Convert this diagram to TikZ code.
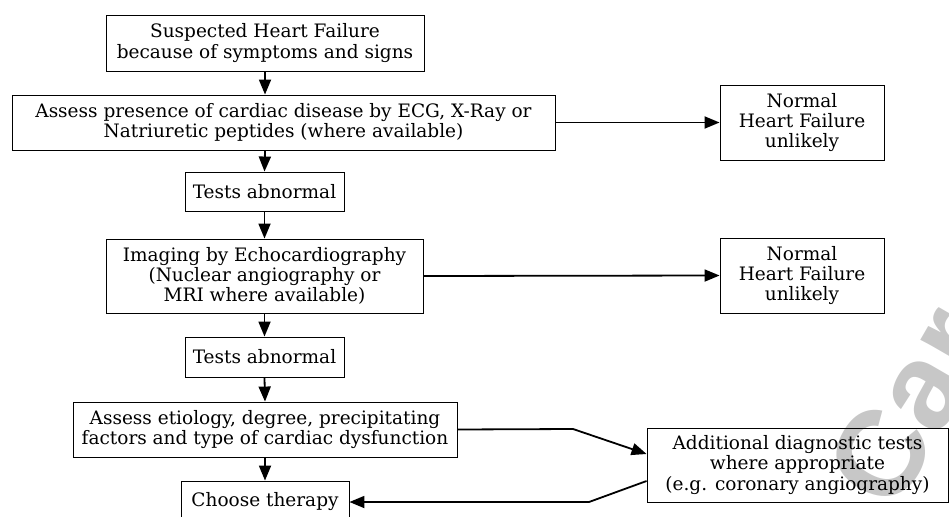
\documentclass[tikz,border=0pt]{standalone}
\usepackage{fontspec}
\setmainfont{DejaVu Serif}
\newfontfamily\wmfont{Liberation Sans}
\usetikzlibrary{arrows.meta}
\begin{document}
\begin{tikzpicture}[x=1pt,y=-1pt,
  box/.style={draw, line width=0.9pt, rectangle, align=center, inner sep=0pt,
    font=\fontsize{18.5}{20.3}\selectfont},
  conn/.style={line width=1.8pt, -{Triangle[length=15pt,width=12pt]}}]
\useasboundingbox (0,0) rectangle (949,516);
\clip (0,0) rectangle (949,516);
\node[text=black!22, font=\wmfont\bfseries\fontsize{122}{122}\selectfont, rotate=60, anchor=base west, inner sep=0pt] (wm) at (894,515) {Car};
\node[box, minimum width=318pt, minimum height=56pt] (b1) at (265,43) {Suspected Heart Failure\\because of symptoms and signs};
\node[box, minimum width=543pt, minimum height=55pt] (b2) at (283.5,122.5) {Assess presence of cardiac disease by ECG, X-Ray or\\Natriuretic peptides (where available)};
\node[box, minimum width=159pt, minimum height=39pt] (b3) at (264.5,191.5) {Tests abnormal};
\node[box, minimum width=317pt, minimum height=74pt] (b4) at (264.5,276) {Imaging by Echocardiography\\(Nuclear angiography or\\MRI where available)};
\node[box, minimum width=159pt, minimum height=40pt] (b5) at (264.5,357) {Tests abnormal};
\node[box, minimum width=384pt, minimum height=55pt] (b6) at (265,429.5) {Assess etiology, degree, precipitating\\factors and type of cardiac dysfunction};
\node[box, minimum width=168pt, minimum height=42pt] (b7) at (265,502) {Choose therapy};
\node[box, minimum width=164pt, minimum height=75pt] (n1) at (802,122.5) {Normal\\Heart Failure\\unlikely};
\node[box, minimum width=164pt, minimum height=75pt] (n2) at (802,275.5) {Normal\\Heart Failure\\unlikely};
\node[box, minimum width=301pt, minimum height=74pt] (ad) at (797.5,465) {Additional diagnostic tests\\where appropriate\\(e.g. coronary angiography)};
\draw[conn] (b1.south) -- (b1.south |- b2.north);
\draw[conn] (b1.south |- b2.south) -- (b3.north);
\draw[conn] (b3.south) -- (b4.north);
\draw[conn] (b4.south) -- (b5.north);
\draw[conn] (b5.south) -- (b6.north);
\draw[conn] (b6.south) -- (b7.north);
\draw[conn] (b2.east) -- (n1.west);
\draw[conn] (b4.east) -- (n2.west);
\coordinate (k1) at (573,429);
\coordinate (k2) at (589,502);
\draw[conn] (b6.east) -- (k1) -- (ad.west |- 0,454);
\draw[conn] (ad.west |- 0,481) -- (k2) -- (b7.east);
\end{tikzpicture}
\end{document}
